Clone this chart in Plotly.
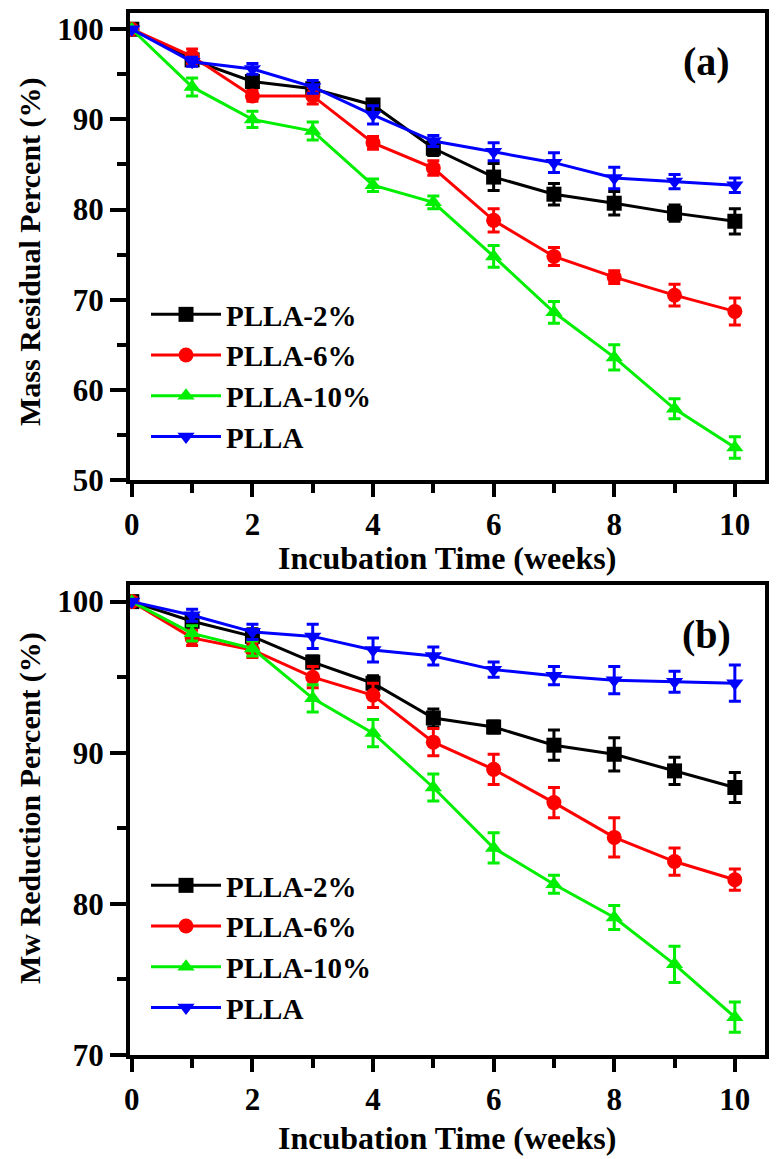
import plotly.graph_objects as go

weeks = [0, 1, 2, 3, 4, 5, 6, 7, 8, 9, 10]
names = ["PLLA-2%", "PLLA-6%", "PLLA-10%", "PLLA"]

# (a) mass residual percent
mass_2 = [100, 96.6, 94.2, 93.4, 91.6, 86.8, 83.6, 81.7, 80.7, 79.6, 78.7]
mass_6 = [100, 97.0, 92.6, 92.6, 87.4, 84.6, 78.8, 74.8, 72.5, 70.5, 68.7]
mass_10 = [100, 93.6, 90.0, 88.7, 82.7, 80.8, 74.8, 68.6, 63.6, 57.9, 53.6]
mass_0 = [100, 96.4, 95.6, 93.6, 90.5, 87.6, 86.4, 85.2, 83.5, 83.1, 82.7]
mass_2_err = [0, 0.5, 0.6, 0.5, 0.6, 0.8, 1.5, 1.2, 1.3, 0.9, 1.4]
mass_6_err = [0, 0.8, 0.6, 0.9, 0.7, 0.8, 1.3, 1.0, 0.7, 1.2, 1.5]
mass_10_err = [0, 1.0, 0.9, 1.0, 0.7, 0.7, 1.2, 1.2, 1.4, 1.1, 1.2]
mass_0_err = [0, 0.5, 0.6, 0.7, 1.0, 0.6, 1.0, 1.1, 1.2, 0.8, 0.8]

# (b) Mw reduction percent
mw_2 = [100, 98.7, 97.7, 96.0, 94.6, 92.3, 91.7, 90.5, 89.9, 88.8, 87.7]
mw_6 = [100, 97.6, 96.8, 95.0, 93.8, 90.7, 88.9, 86.7, 84.4, 82.8, 81.6]
mw_10 = [100, 97.9, 96.9, 93.6, 91.3, 87.7, 83.7, 81.3, 79.1, 76.0, 72.5]
mw_0 = [100, 99.1, 98.0, 97.7, 96.8, 96.4, 95.5, 95.1, 94.8, 94.7, 94.6]
mw_2_err = [0, 0.4, 0.5, 0.4, 0.5, 0.6, 0.4, 1.0, 1.1, 0.9, 1.0]
mw_6_err = [0, 0.5, 0.5, 0.7, 0.8, 0.9, 1.0, 1.0, 1.3, 0.9, 0.7]
mw_10_err = [0, 0.5, 0.5, 0.9, 0.9, 0.9, 1.0, 0.6, 0.8, 1.2, 1.0]
mw_0_err = [0, 0.4, 0.5, 0.8, 0.8, 0.6, 0.5, 0.6, 0.9, 0.7, 1.2]

colors = ["#000000", "#ff0000", "#00ee00", "#0000ff"]
symbols = ["square", "circle", "triangle-up", "triangle-down"]

FONT = "Liberation Serif"
# page body has an 8px margin, so the figure is a bit smaller than the window
OFF = 8
W = 779 - OFF
H = 1159 - OFF


def sx(px):
    return (px - OFF) / W


def sy(py):
    return 1 - (py - OFF) / H


fig = go.Figure()

top = [(mass_2, mass_2_err), (mass_6, mass_6_err), (mass_10, mass_10_err), (mass_0, mass_0_err)]
bottom = [(mw_2, mw_2_err), (mw_6, mw_6_err), (mw_10, mw_10_err), (mw_0, mw_0_err)]

for data, xa, ya, lg in [(top, "x", "y", "legend"), (bottom, "x2", "y2", "legend2")]:
    for i, (vals, err) in enumerate(data):
        fig.add_trace(go.Scatter(
            x=weeks, y=vals, name=names[i], mode="lines+markers",
            line=dict(color=colors[i], width=3),
            marker=dict(symbol=symbols[i], size=15, color=colors[i]),
            error_y=dict(type="data", array=err, color=colors[i], thickness=3, width=6),
            xaxis=xa, yaxis=ya, legend=lg,
        ))

tickfont = dict(family=FONT, size=31, color="black", weight="bold")
minor_tick = dict(ticks="outside", ticklen=9, tickwidth=3.5, tickcolor="black")

common_x = dict(
    range=[-0.03, 10.5], tickvals=[0, 2, 4, 6, 8, 10],
    ticks="outside", ticklen=13, tickwidth=3.5, tickcolor="black", ticklabelstandoff=1,
    minor=dict(minor_tick, tickvals=[1, 3, 5, 7, 9]),
    showline=True, linewidth=4, linecolor="black", mirror=True,
    showgrid=False, zeroline=False, tickfont=tickfont, automargin=False,
    domain=[sx(130), sx(765)],
)
common_y = dict(
    ticks="outside", ticklen=16, tickwidth=3.5, tickcolor="black",
    showline=True, linewidth=4, linecolor="black", mirror=True,
    showgrid=False, zeroline=False, tickfont=tickfont, automargin=False,
)

legend_font = dict(family=FONT, size=29, color="black", weight="bold")
title_font = dict(family=FONT, size=32, color="black", weight="bold")
ytitle_font = dict(family=FONT, size=30, color="black", weight="bold")
label_font = dict(family=FONT, size=40, color="black", weight="bold")

annotations = []
for cy, ycy, text, label, ly in [(558, 252, "Mass Residual Percent (%)", "(a)", 61),
                                 (1138, 808, "Mw Reduction Percent (%)", "(b)", 634)]:
    annotations.append(dict(text="Incubation Time (weeks)", x=sx(447), y=sy(cy),
                            xanchor="center", yanchor="middle",
                            xref="paper", yref="paper", showarrow=False, font=title_font))
    annotations.append(dict(text=text, x=sx(30), y=sy(ycy), textangle=-90,
                            xanchor="center", yanchor="middle",
                            xref="paper", yref="paper", showarrow=False, font=ytitle_font))
    annotations.append(dict(text=label, x=sx(706), y=sy(ly), xanchor="center", yanchor="middle",
                            xref="paper", yref="paper", showarrow=False, font=label_font))

fig.update_layout(
    width=W, height=H,
    margin=dict(l=0, r=0, t=0, b=0),
    plot_bgcolor="white", paper_bgcolor="white",
    font=dict(family=FONT, color="black"),
    xaxis=dict(common_x, anchor="y"),
    yaxis=dict(common_y, anchor="x", range=[50, 101.8], tickvals=[50, 60, 70, 80, 90, 100],
               minor=dict(minor_tick, tickvals=[55, 65, 75, 85, 95]),
               domain=[sy(480), sy(13)]),
    xaxis2=dict(common_x, anchor="y2"),
    yaxis2=dict(common_y, anchor="x2", range=[70, 101.1], tickvals=[70, 80, 90, 100],
                minor=dict(minor_tick, tickvals=[75, 85, 95]),
                domain=[sy(1055), sy(585)]),
    legend=dict(x=sx(146), y=sy(289), xanchor="left", yanchor="top",
                font=legend_font, bgcolor="rgba(0,0,0,0)", tracegroupgap=0, itemwidth=70),
    legend2=dict(x=sx(146), y=sy(860), xanchor="left", yanchor="top",
                 font=legend_font, bgcolor="rgba(0,0,0,0)", tracegroupgap=0, itemwidth=70),
    annotations=annotations,
)

fig.write_html("out.html")
